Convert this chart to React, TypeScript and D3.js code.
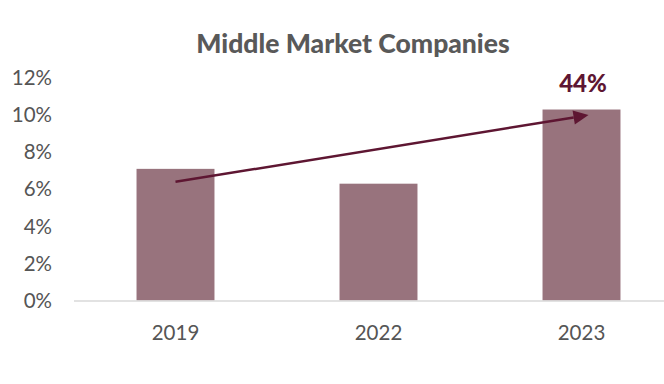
import React from "react";
import * as d3 from "d3";

const categories = ["2019", "2022", "2023"];
const values = [7.1, 6.3, 10.3];
const yTicks = [0, 2, 4, 6, 8, 10, 12];
const title = "Middle Market Companies";
const growthLabel = "44%";
const arrowStart = { cat: "2019", value: 6.4 };
const arrowEnd = { cat: "2023", value: 10.0 };

const W = 664;
const H = 384;
const FONT = "Lato, 'Open Sans', sans-serif";

export default function App() {
  const x = d3.scaleBand<string>().domain(categories).range([74, 683]).paddingInner(0.616).paddingOuter(0.308);
  const y = d3.scaleLinear().domain([0, 12]).range([300.5, 78]);
  const cx = (c: string) => (x(c) as number) + x.bandwidth() / 2;

  const x1 = cx(arrowStart.cat);
  const y1 = y(arrowStart.value);
  const x2 = cx(arrowEnd.cat) + 7;
  const y2 = y(arrowEnd.value);
  const ang = Math.atan2(y2 - y1, x2 - x1);
  const headLen = 15;
  const headHalf = 7;
  const bx = x2 - headLen * Math.cos(ang);
  const by = y2 - headLen * Math.sin(ang);
  const px = -Math.sin(ang) * headHalf;
  const py = Math.cos(ang) * headHalf;
  const head = `M${x2},${y2}L${bx + px},${by + py}L${bx - px},${by - py}Z`;

  return (
    <svg width={W} height={H} style={{ position: "absolute", left: 0, top: 0, background: "#fff" }}>
      <text x={353} y={52.5} textAnchor="middle" fontFamily={FONT} fontWeight={900} fontSize={26.5} fill="#595959">
        {title}
      </text>
      {yTicks.map((t) => (
        <text key={t} x={52} y={y(t)} dy="0.35em" textAnchor="end" fontFamily={FONT} fontSize={20.5} fill="#555555">
          {t}%
        </text>
      ))}
      {categories.map((c, i) => (
        <rect key={c} x={x(c)} y={y(values[i])} width={x.bandwidth()} height={y(0) - y(values[i])} fill="#98737D" />
      ))}
      <line x1={74} x2={664} y1={y(0) + 0.5} y2={y(0) + 0.5} stroke="#D9D9D9" strokeWidth={1.5} />
      {categories.map((c) => (
        <text key={c} x={cx(c)} y={340} textAnchor="middle" fontFamily={FONT} fontSize={20.5} fill="#555555">
          {c}
        </text>
      ))}
      <line x1={x1} y1={y1} x2={bx} y2={by} stroke="#5E1632" strokeWidth={2.5} />
      <path d={head} fill="#5E1632" />
      <text x={583} y={92} textAnchor="middle" fontFamily={FONT} fontWeight={900} fontSize={24} fill="#5E1632">
        {growthLabel}
      </text>
    </svg>
  );
}
